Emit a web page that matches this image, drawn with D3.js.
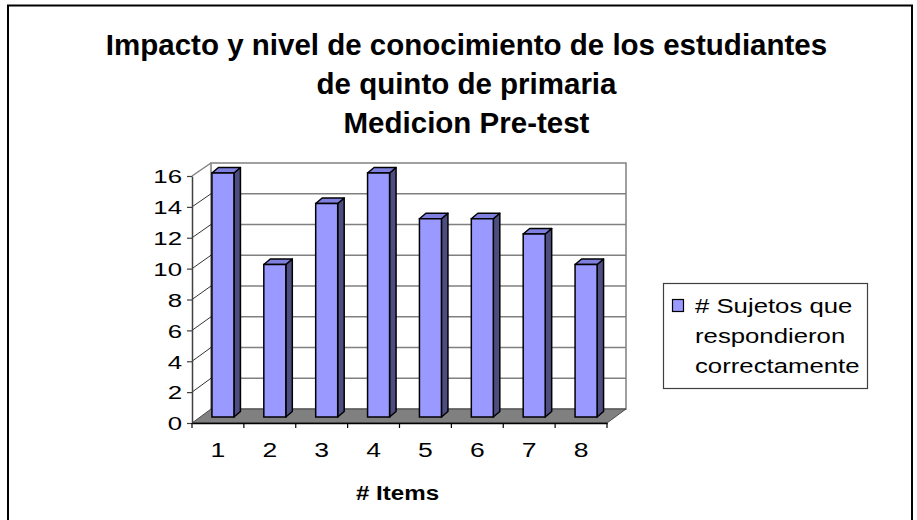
<!DOCTYPE html>
<html>
<head>
<meta charset="utf-8">
<script src="https://cdnjs.cloudflare.com/ajax/libs/d3/7.8.5/d3.min.js"></script>
<style>
  body { margin: 0; background: #fff; }
  svg { display: block; font-family: "Liberation Sans", Arial, sans-serif; }
</style>
</head>
<body>
<svg width="917" height="520"></svg>
<script>
/// Data
var categories = ["1", "2", "3", "4", "5", "6", "7", "8"];
var values = [16, 10, 14, 16, 13, 13, 12, 10];
var yTicks = [0, 2, 4, 6, 8, 10, 12, 14, 16];
var titleLines = ["Impacto y nivel de conocimiento de los estudiantes", "de quinto de primaria", "Medicion Pre-test"];
var legendLines = ["# Sujetos que", "respondieron", "correctamente"];
var xTitle = "# Items";

var svg = d3.select("svg");

// text in the reference is stretched sideways a bit
var stretch = 1.36;

/// Scales
var x = d3.scaleBand().domain(categories).range([192, 607]);
var yFront = d3.scaleLinear().domain([0, 16]).range([423, 176]);
var yBack = d3.scaleLinear().domain([0, 16]).range([409, 163]);
var yBar = d3.scaleLinear().domain([0, 16]).range([417, 173]);
var depthX = 19;           // front axis -> back wall
var barDx = 6.5, barDy = -5.5, barShift = 5, barW = 22;

/// Frame
svg.append("rect")
    .attr("x", 8).attr("y", 5.5)
    .attr("width", 904).attr("height", 540)
    .attr("fill", "none")
    .attr("stroke", "#000")
    .attr("stroke-width", 2);

/// Title
svg.append("g").selectAll("text")
    .data(titleLines)
  .enter().append("text")
    .attr("x", 466.5)
    .attr("y", function(d, i) { return 55 + i * 39; })
    .attr("text-anchor", "middle")
    .style("font-size", "29.5px")
    .style("font-weight", "bold")
    .text(function(d) { return d; });

/// Walls
var x0 = x.range()[0], x1 = x.range()[1];

// back wall
svg.append("rect")
    .attr("x", x0 + depthX).attr("y", yBack(16))
    .attr("width", x1 - x0).attr("height", yBack(0) - yBack(16))
    .attr("fill", "#fff")
    .attr("stroke", "#808080")
    .attr("stroke-width", 1.5);

svg.append("g").selectAll("line")
    .data(yTicks.slice(1, -1))
  .enter().append("line")
    .attr("x1", x0 + depthX).attr("x2", x1 + depthX)
    .attr("y1", function(d) { return yBack(d); })
    .attr("y2", function(d) { return yBack(d); })
    .style("stroke", "#808080")
    .style("stroke-width", 1.5);

// side wall top edge
svg.append("line")
    .attr("x1", x0).attr("y1", yFront(16))
    .attr("x2", x0 + depthX).attr("y2", yBack(16))
    .style("stroke", "#808080")
    .style("stroke-width", 1.5);

// side wall grid (diagonals)
svg.append("g").selectAll("line")
    .data(yTicks.slice(1, -1))
  .enter().append("line")
    .attr("x1", x0).attr("x2", x0 + depthX)
    .attr("y1", function(d) { return yFront(d); })
    .attr("y2", function(d) { return yBack(d); })
    .style("stroke", "#000")
    .style("stroke-width", 0.8);

/// Floor
svg.append("polygon")
    .attr("points", [
      [x0, yFront(0)], [x1, yFront(0)],
      [x1 + depthX, yBack(0)], [x0 + depthX, yBack(0)]
    ].join(" "))
    .attr("fill", "#808080")
    .attr("stroke", "#333")
    .attr("stroke-width", 0.8);

/// Bars
var bars = svg.append("g").selectAll("g")
    .data(values)
  .enter().append("g");

function bx(i) {
  return x(categories[i]) + x.bandwidth() / 2 + barShift - barW / 2;
}

bars.append("polygon")   // side
    .attr("points", function(d, i) {
      var r = bx(i) + barW;
      return [[r, yBar(d)], [r + barDx, yBar(d) + barDy],
              [r + barDx, yBar(0) + barDy], [r, yBar(0)]].join(" ");
    })
    .style("fill", "#4d4d80")
    .style("stroke", "#000")
    .style("stroke-width", 1.5)
    .style("stroke-linejoin", "round");

bars.append("polygon")   // top
    .attr("points", function(d, i) {
      var l = bx(i), r = l + barW;
      return [[l, yBar(d)], [l + barDx, yBar(d) + barDy],
              [r + barDx, yBar(d) + barDy], [r, yBar(d)]].join(" ");
    })
    .style("fill", "#7f7fdf")
    .style("stroke", "#000")
    .style("stroke-width", 1.5)
    .style("stroke-linejoin", "round");

bars.append("rect")      // front
    .attr("x", function(d, i) { return bx(i); })
    .attr("y", function(d) { return yBar(d); })
    .attr("width", barW)
    .attr("height", function(d) { return yBar(0) - yBar(d); })
    .style("fill", "#9999ff")
    .style("stroke", "#000")
    .style("stroke-width", 1.5);

/// Y axis
var yAxis = svg.append("g")
    .attr("transform", "translate(" + x0 + ",0)")
    .call(d3.axisLeft(yFront).tickValues(yTicks).tickSize(5).tickSizeOuter(0));
yAxis.select(".domain").style("stroke", "#404040").style("stroke-width", 1.5);
yAxis.selectAll(".tick line").style("stroke", "#404040").style("stroke-width", 1.2);
yAxis.selectAll(".tick text")
    .attr("x", -10 / stretch)
    .attr("dy", "0.36em")
    .attr("transform", "scale(" + stretch + ",1)")
    .style("font-size", "19px")
    .style("font-family", "'Liberation Sans', Arial, sans-serif")
    .style("fill", "#000");

/// X axis
var xAxis = svg.append("g")
    .attr("transform", "translate(0," + yFront(0) + ")")
    .call(d3.axisBottom(x).tickSize(0).tickSizeOuter(0).tickPadding(0));
xAxis.select(".domain").style("stroke", "#000").style("stroke-width", 1.5);
xAxis.selectAll(".tick text")
    .attr("y", 34)
    .attr("dy", 0)
    .attr("transform", "scale(" + stretch + ",1)")
    .attr("x", 0)
    .style("font-size", "19.5px")
    .style("font-family", "'Liberation Sans', Arial, sans-serif")
    .style("fill", "#000");

// boundary ticks between categories
xAxis.append("g").selectAll("line")
    .data(d3.range(categories.length + 1))
  .enter().append("line")
    .attr("x1", function(d) { return x0 + d * x.step(); })
    .attr("x2", function(d) { return x0 + d * x.step(); })
    .attr("y1", 0).attr("y2", 5)
    .style("stroke", "#000")
    .style("stroke-width", 1.2);

// x axis title
svg.append("text")
    .attr("transform", "translate(397.5,500) scale(1.15,1)")
    .attr("text-anchor", "middle")
    .style("font-size", "21px")
    .style("font-weight", "bold")
    .text(xTitle);

/// Legend
var legend = svg.append("g").attr("transform", "translate(663.5,283.5)");
legend.append("rect")
    .attr("width", 204).attr("height", 105)
    .attr("fill", "#fff")
    .attr("stroke", "#404040")
    .attr("stroke-width", 1.2);
legend.append("rect")
    .attr("x", 9).attr("y", 16)
    .attr("width", 11).attr("height", 12)
    .style("fill", "#9999ff")
    .style("stroke", "#000")
    .style("stroke-width", 1.2);
legend.selectAll("text.lg")
    .data(legendLines)
  .enter().append("text")
    .attr("class", "lg")
    .attr("transform", function(d, i) {
      return "translate(31.5," + (29.5 + i * 30) + ") scale(1.32,1)";
    })
    .style("font-size", "19.5px")
    .text(function(d) { return d; });
</script>
</body>
</html>
